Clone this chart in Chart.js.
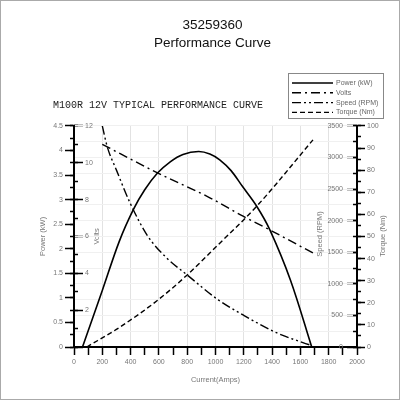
<!DOCTYPE html>
<html lang="en">
<head>
  <meta charset="UTF-8" />
  <title>35259360 Performance Curve</title>
  <script src="https://cdn.jsdelivr.net/npm/chart.js"></script>
  <style>
    body { margin: 0; background: #fff; }
    #wrap { position: relative; width: 400px; height: 400px; }
    #frame {
      position: absolute; left: 0; top: 0; width: 400px; height: 400px;
      box-sizing: border-box; border: 1px solid #aaa; pointer-events: none;
    }
  </style>
</head>
<body>
  <div id="wrap">
    <canvas id="perfChart" width="400" height="400"></canvas>
    <div id="frame"></div>
  </div>

  <script>
    // values (current in amps)
    const powerAmps = [60, 200, 320, 420, 500, 590, 680, 770, 880, 960, 1030, 1110, 1190, 1290, 1385, 1530, 1680];
    const powerKw = [0, 1.15, 2.15, 2.8, 3.2, 3.54, 3.77, 3.92, 3.98, 3.93, 3.81, 3.59, 3.27, 2.87, 2.38, 1.36, 0];

    const voltsAmps = [200, 590, 960, 1195, 1385, 1690];
    const volts = [11.0, 9.45, 8.1, 7.1, 6.35, 5.1];

    const speedAmps = [200, 235, 300, 396, 520, 650, 800, 1020, 1195, 1435, 1670];
    const speedRpm = [3500, 3170, 2800, 2282, 1760, 1420, 1140, 745, 507, 222, 30];

    const torqueAmps = [90, 325, 594, 800, 1018, 1293, 1689];
    const torqueNm = [0, 9, 21.3, 32.6, 46.2, 63.8, 93.7];

    const seriesNames = ['Power (kW)', 'Volts', 'Speed (RPM)', 'Torque (Nm)'];
    const chartTitle = ['35259360', 'Performance Curve'];
    const subTitle = 'M100R 12V TYPICAL PERFORMANCE CURVE';

    Chart.defaults.font.family = "'Liberation Sans', Arial, sans-serif";

    function pts(xs, ys) {
      return xs.map((x, i) => ({ x: x, y: ys[i] }));
    }

    const zeroWidth = s => { s.width = 0; };
    const blank = () => '';
    const plain = v => String(v);
    const tickFont = { size: 7 };
    const greyText = '#777';

    // extra text: subtitle, legend box, right-hand axis titles
    const extras = {
      id: 'extras',
      afterDraw(chart) {
        const ctx = chart.ctx;
        ctx.save();
        ctx.fillStyle = '#222';
        ctx.font = "10px 'Liberation Mono', monospace";
        ctx.textBaseline = 'middle';
        ctx.fillText(subTitle, 53, 105);

        // legend
        ctx.fillStyle = '#fff';
        ctx.fillRect(288, 73, 95, 45);
        ctx.strokeStyle = '#888';
        ctx.lineWidth = 1;
        ctx.strokeRect(288.5, 73.5, 95, 45);
        chart.data.datasets.forEach((ds, i) => {
          const y = 83 + i * 9.8;
          ctx.strokeStyle = '#000';
          ctx.lineWidth = ds.borderWidth;
          ctx.setLineDash(ds.borderDash || []);
          ctx.beginPath();
          ctx.moveTo(292, y);
          ctx.lineTo(333, y);
          ctx.stroke();
          ctx.setLineDash([]);
          ctx.fillStyle = '#666';
          ctx.font = "7px 'Liberation Sans', Arial, sans-serif";
          ctx.fillText(ds.label, 336, y);
        });

        // rotated titles on the right side
        ctx.fillStyle = greyText;
        ctx.font = "7.5px 'Liberation Sans', Arial, sans-serif";
        ctx.textAlign = 'center';
        [['Speed (RPM)', 320, 234], ['Torque (Nm)', 383, 236]].forEach(t => {
          ctx.save();
          ctx.translate(t[1], t[2]);
          ctx.rotate(-Math.PI / 2);
          ctx.fillText(t[0], 0, 0);
          ctx.restore();
        });
        ctx.restore();
      }
    };

    const ctx = document.getElementById('perfChart').getContext('2d');
    new Chart(ctx, {
      type: 'line',
      data: {
        datasets: [
          { label: seriesNames[0], data: pts(powerAmps, powerKw), yAxisID: 'yPower',
            borderColor: '#000', borderWidth: 1.6, cubicInterpolationMode: 'default', tension: 0.35 },
          { label: seriesNames[1], data: pts(voltsAmps, volts), yAxisID: 'yVolts',
            borderColor: '#000', borderWidth: 1.4, borderDash: [9, 4, 2, 4] },
          { label: seriesNames[2], data: pts(speedAmps, speedRpm), yAxisID: 'ySpeed',
            borderColor: '#000', borderWidth: 1.4, borderDash: [9, 3, 2, 3, 2, 3] },
          { label: seriesNames[3], data: pts(torqueAmps, torqueNm), yAxisID: 'yTorque',
            borderColor: '#000', borderWidth: 1.4, borderDash: [5, 3] }
        ]
      },
      options: {
        responsive: false,
        animation: false,
        layout: { padding: { left: 30, right: 5, top: 0, bottom: 13 } },
        elements: {
          point: { radius: 0 },
          line: { fill: false, cubicInterpolationMode: 'monotone' }
        },
        plugins: {
          legend: { display: false },
          tooltip: { enabled: false },
          title: {
            display: true,
            text: chartTitle,
            color: '#111',
            font: { size: 13.5, weight: 'normal', lineHeight: 1.33 },
            padding: { top: 16, bottom: 74 }
          }
        },
        scales: {
          x: {
            type: 'linear', min: 0, max: 2000,
            ticks: { stepSize: 100, autoSkip: false, maxRotation: 0, padding: 3, color: greyText, font: tickFont,
                     callback: v => v % 200 === 0 ? v : '' },
            grid: { color: c => (c.tick && c.tick.value % 200 === 0) ? '#e2e2e2' : 'rgba(0,0,0,0)',
                    tickColor: '#000', tickLength: 8, tickWidth: 1.5 },
            border: { color: '#000', width: 2 },
            title: { display: true, text: 'Current(Amps)', color: greyText, font: { size: 7.5 },
                     padding: { top: 0, bottom: 3 } },
            afterFit: s => { s.height = 40; }
          },
          yPower: {
            position: 'left', weight: 2, min: 0, max: 4.5,
            ticks: { stepSize: 0.5, autoSkip: false, padding: 2, color: greyText, font: tickFont, callback: plain },
            grid: { drawOnChartArea: false, tickColor: '#000', tickLength: 9, tickWidth: 1.5 },
            border: { color: '#000', width: 2 },
            title: { display: true, text: 'Power (kW)', color: greyText, font: { size: 7.5 },
                     padding: { top: 8, bottom: 0 } },
            afterFit: s => { s.width = 44; }
          },
          yPowerMinor: {
            position: 'left', min: 0, max: 4.5,
            ticks: { stepSize: 0.25, autoSkip: false, callback: blank },
            grid: { drawOnChartArea: false, tickColor: '#000', tickLength: 4, tickWidth: 1.5 },
            border: { display: false },
            afterFit: zeroWidth
          },
          yVolts: {
            position: 'left', min: 0, max: 12,
            ticks: { stepSize: 2, autoSkip: false, mirror: true, padding: 11, color: greyText, font: tickFont,
                     callback: v => v === 0 ? '' : String(v) },
            grid: { drawOnChartArea: false, tickColor: '#000', tickLength: -9, tickWidth: 1.5 },
            border: { display: false },
            title: { display: true, text: 'Volts', color: greyText, font: { size: 7.5 },
                     padding: { top: 18, bottom: 0 } },
            afterFit: zeroWidth
          },
          yVoltsMinor: {
            position: 'left', min: 0, max: 12,
            ticks: { stepSize: 1, autoSkip: false, callback: blank },
            grid: { drawOnChartArea: false, tickColor: '#000', tickLength: -4, tickWidth: 1.5 },
            border: { display: false },
            afterFit: zeroWidth
          },
          ySpeed: {
            position: 'right', min: 0, max: 3500,
            ticks: { stepSize: 500, autoSkip: false, mirror: true, padding: -14, color: greyText, font: tickFont,
                     callback: plain },
            grid: { drawOnChartArea: false, tickColor: '#000', tickLength: -10, tickWidth: 1.5 },
            border: { display: false },
            afterFit: zeroWidth
          },
          ySpeedMinor: {
            position: 'right', min: 0, max: 3500,
            ticks: { stepSize: 250, autoSkip: false, callback: blank },
            grid: { color: '#f0f0f0', tickColor: '#000', tickLength: -4, tickWidth: 1.5 },
            border: { display: false },
            afterFit: zeroWidth
          },
          yTorque: {
            position: 'right', weight: 2, min: 0, max: 100,
            ticks: { stepSize: 10, autoSkip: false, padding: 2, color: greyText, font: tickFont, callback: plain },
            grid: { drawOnChartArea: false, tickColor: '#000', tickLength: 8, tickWidth: 1.5 },
            border: { color: '#000', width: 2 },
            afterFit: s => { s.width = 38; }
          },
          yTorqueMinor: {
            position: 'right', min: 0, max: 100,
            ticks: { stepSize: 5, autoSkip: false, callback: blank },
            grid: { drawOnChartArea: false, tickColor: '#000', tickLength: 4, tickWidth: 1.5 },
            border: { display: false },
            afterFit: zeroWidth
          }
        }
      },
      plugins: [extras]
    });
  </script>
</body>
</html>
